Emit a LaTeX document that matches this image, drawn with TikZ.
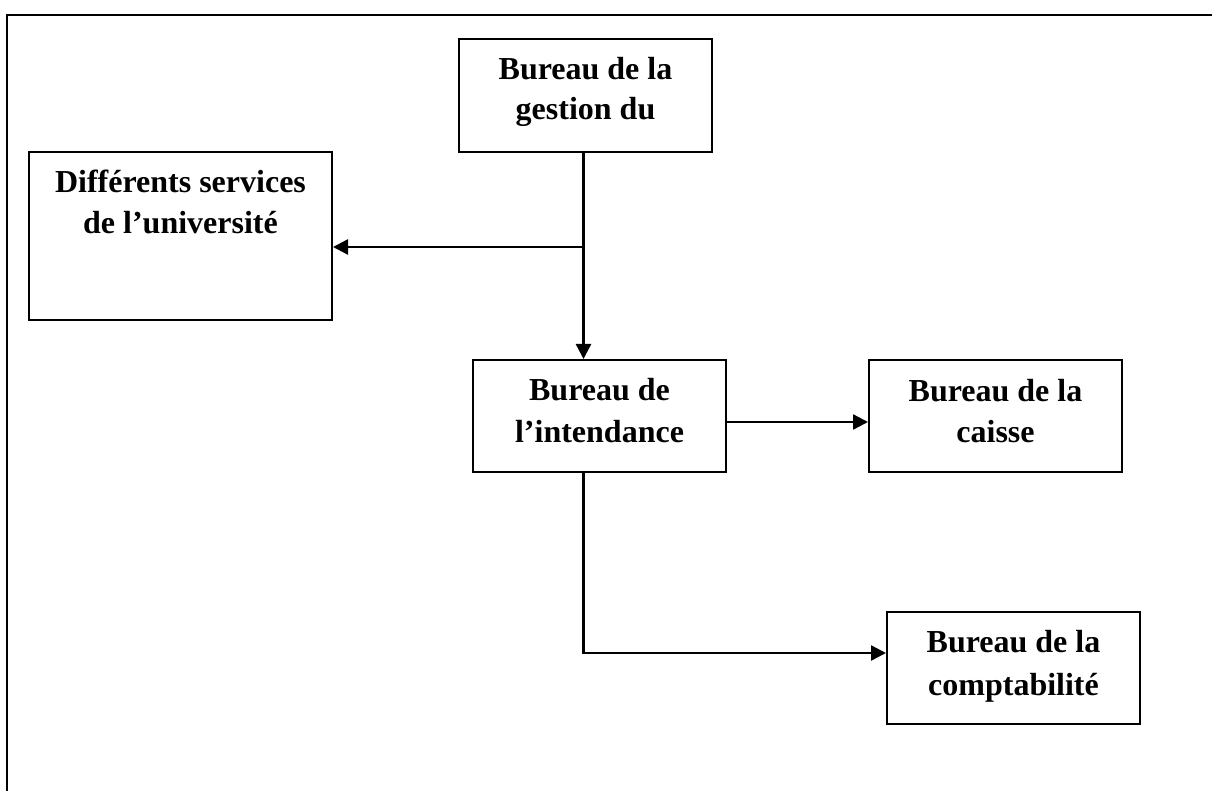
\documentclass[tikz,border=0pt]{standalone}
\usepackage{fontspec}
\setmainfont{Liberation Serif}
\usetikzlibrary{arrows.meta}
\begin{document}
\begin{tikzpicture}[x=1pt,y=-1pt,
  box/.style={draw=black,line width=2pt,rectangle,inner sep=0pt,minimum width=253pt,minimum height=113pt},
  txt/.style={anchor=base,inner sep=0pt,font=\fontsize{32}{39}\selectfont\bfseries},
  frame/.style={line width=2.6pt},
  link/.style={line width=2.4pt},
  arr/.style={link,-{Triangle[length=15pt,width=15pt]}}]
\useasboundingbox (0,0) rectangle (1212,791);
% outer frame (top and left edges)
\draw[frame] (7,791) -- (7,15) -- (1212,15);
% boxes
\node[box] (gest) at (585.5,95.5) {};
\node[box,minimum width=303pt,minimum height=168pt] (serv) at (180.5,236) {};
\node[box,minimum height=112pt] (mid) at (599.5,416) {};
\node[box,minimum height=112pt] (caisse) at (995.5,416) {};
\node[box,minimum height=112pt] (compta) at (1013.5,668) {};
% box texts
\node[txt] (gestA) at (585.5,80) {Bureau de la};
\node[txt] (gestB) at (585.5,120) {gestion du};
\node[txt] (servA) at (180.5,193) {Différents services};
\node[txt] (servB) at (180.5,234) {de l’université};
\node[txt] (midA) at (599.5,400) {Bureau de};
\node[txt] (midB) at (599.5,442) {l’intendance};
\node[txt] (caisseA) at (995.5,401) {Bureau de la};
\node[txt] (caisseB) at (995.5,442) {caisse};
\node[txt] (comptaA) at (1013.5,652) {Bureau de la};
\node[txt] (comptaB) at (1013.5,695) {comptabilité};
% junctions of the connectors
\coordinate (jx) at (583.5,247);
\coordinate (cy) at (0,422);
\coordinate (ky) at (583.5,653);
% connectors
\draw[link] (gest.south -| jx) -- (jx);
\draw[arr] (jx) -- (mid.north -| jx);
\draw[arr] (jx) -- (serv.east |- jx);
\draw[arr] (mid.east |- cy) -- (caisse.west |- cy);
\draw[arr] (mid.south -| ky) -- (ky) -- (compta.west |- ky);
\end{tikzpicture}
\end{document}
